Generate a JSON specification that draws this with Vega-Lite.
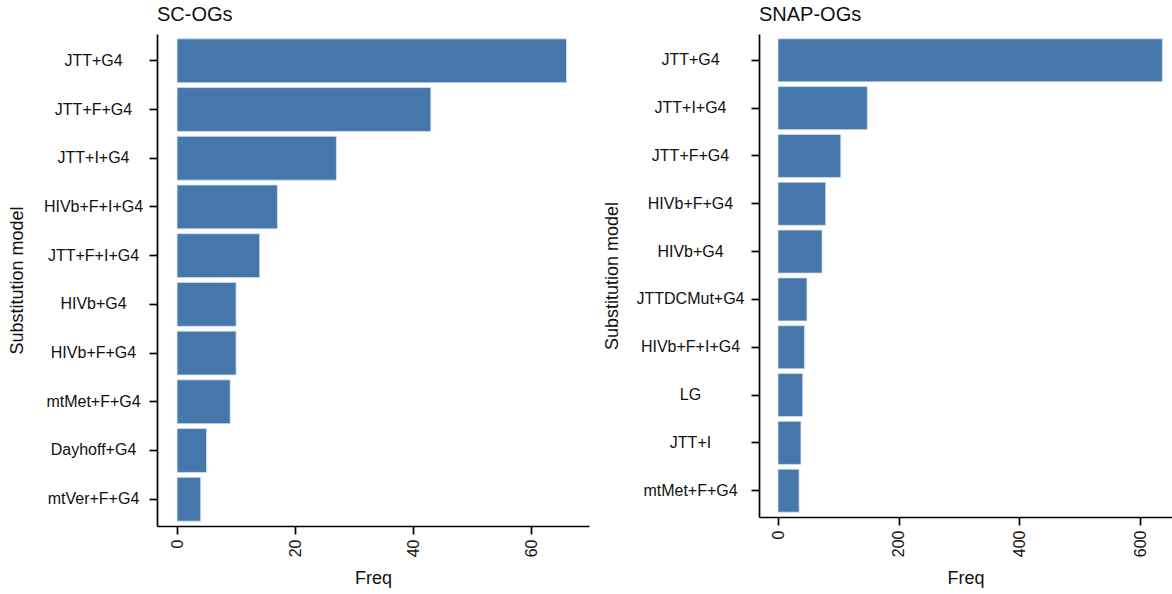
{
  "$schema": "https://vega.github.io/schema/vega-lite/v6.json",
  "padding": {"left": 8, "top": 5, "right": 0, "bottom": 0},
  "spacing": 14,
  "datasets": {
    "sc": [
      {"model": "JTT+G4", "freq": 66},
      {"model": "JTT+F+G4", "freq": 43},
      {"model": "JTT+I+G4", "freq": 27},
      {"model": "HIVb+F+I+G4", "freq": 17},
      {"model": "JTT+F+I+G4", "freq": 14},
      {"model": "HIVb+G4", "freq": 10},
      {"model": "HIVb+F+G4", "freq": 10},
      {"model": "mtMet+F+G4", "freq": 9},
      {"model": "Dayhoff+G4", "freq": 5},
      {"model": "mtVer+F+G4", "freq": 4}
    ],
    "snap": [
      {"model": "JTT+G4", "freq": 637},
      {"model": "JTT+I+G4", "freq": 148},
      {"model": "JTT+F+G4", "freq": 104},
      {"model": "HIVb+F+G4", "freq": 79},
      {"model": "HIVb+G4", "freq": 73},
      {"model": "JTTDCMut+G4", "freq": 48},
      {"model": "HIVb+F+I+G4", "freq": 44},
      {"model": "LG", "freq": 41},
      {"model": "JTT+I", "freq": 38},
      {"model": "mtMet+F+G4", "freq": 35}
    ]
  },
  "config": {
    "view": {"stroke": null},
    "font": "Liberation Sans",
    "axis": {
      "grid": false,
      "domainColor": "black",
      "domainWidth": 1.7,
      "tickColor": "black",
      "tickWidth": 1.7,
      "tickSize": 8,
      "labelColor": "#111111",
      "labelFontSize": 16,
      "titleColor": "#111111",
      "titleFontSize": 18,
      "titleFontWeight": "normal"
    },
    "axisX": {"labelAngle": 270, "labelPadding": 5, "titlePadding": 13},
    "axisY": {"labelAlign": "center", "labelBaseline": "middle"},
    "title": {"anchor": "start", "frame": "group", "fontSize": 20, "fontWeight": "normal", "color": "#111111", "offset": 9}
  },
  "hconcat": [
    {
      "title": "SC-OGs",
      "width": 432,
      "height": 492,
      "data": {"name": "sc"},
      "mark": {"type": "bar", "color": "#4577aa", "stroke": "#d6e2ee", "strokeWidth": 0.8},
      "encoding": {
        "y": {
          "field": "model",
          "type": "nominal",
          "sort": null,
          "title": "Substitution model",
          "scale": {"paddingInner": 0.1, "paddingOuter": 0.1},
          "axis": {"labelPadding": 56, "titlePadding": 17}
        },
        "x": {
          "field": "freq",
          "type": "quantitative",
          "title": "Freq",
          "scale": {"domain": [-3.4, 69.8], "nice": false, "zero": false},
          "axis": {"values": [0, 20, 40, 60]}
        },
        "x2": {"datum": 0}
      }
    },
    {
      "title": "SNAP-OGs",
      "width": 413,
      "height": 483,
      "data": {"name": "snap"},
      "mark": {"type": "bar", "color": "#4577aa", "stroke": "#d6e2ee", "strokeWidth": 0.8},
      "encoding": {
        "y": {
          "field": "model",
          "type": "nominal",
          "sort": null,
          "title": "Substitution model",
          "scale": {"paddingInner": 0.1, "paddingOuter": 0.1},
          "axis": {"labelPadding": 61, "titlePadding": 14}
        },
        "x": {
          "field": "freq",
          "type": "quantitative",
          "title": "Freq",
          "scale": {"domain": [-31.5, 653], "nice": false, "zero": false},
          "axis": {"values": [0, 200, 400, 600]}
        },
        "x2": {"datum": 0}
      }
    }
  ]
}
